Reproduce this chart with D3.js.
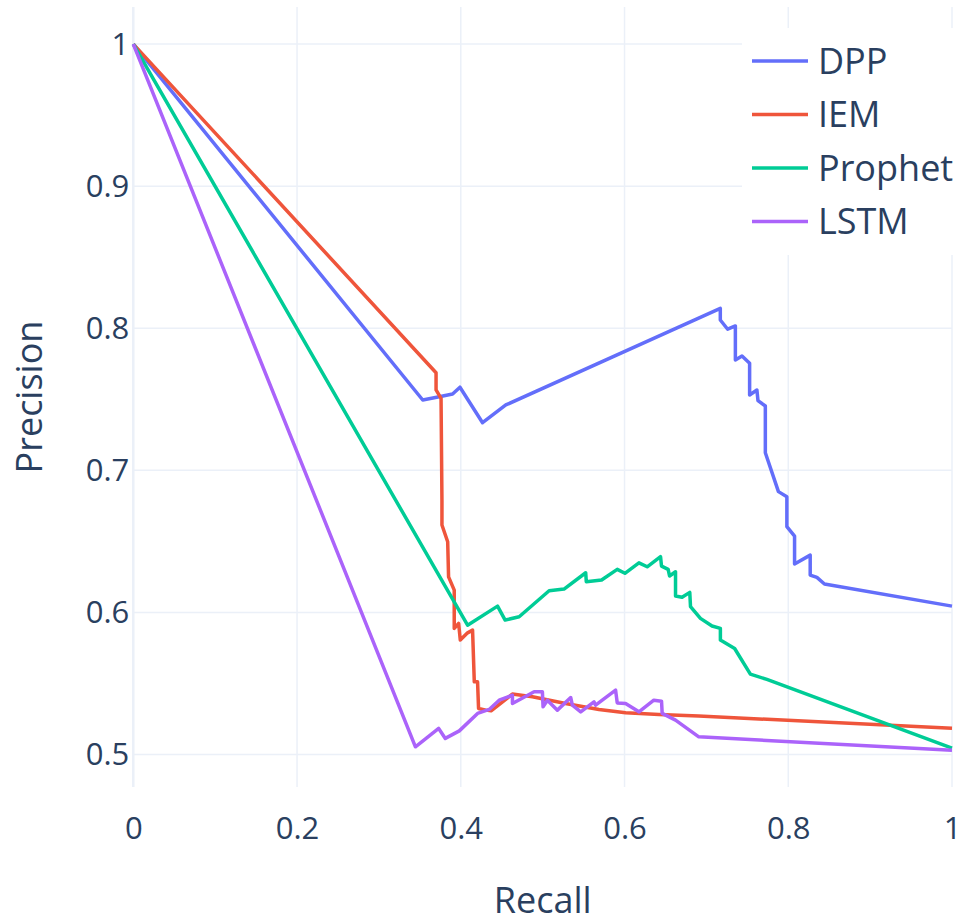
<!DOCTYPE html>
<html>
<head>
<meta charset="utf-8">
<script src="https://cdn.jsdelivr.net/npm/d3@7"></script>
<style>
  body { margin: 0; background: #fff; }
  text { font-family: 'Open Sans', sans-serif; fill: #2a3f5f; }
</style>
</head>
<body>
<div id="visualization"></div>
<script>
var seriesNames = ['DPP', 'IEM', 'Prophet', 'LSTM']
var seriesColors = ['#636efa', '#EF553B', '#00cc96', '#ab63fa']

var dppRecall = [0, 0.3535, 0.3737, 0.39, 0.399, 0.4266, 0.455, 0.717, 0.717, 0.726, 0.7354, 0.7354, 0.7435, 0.7528, 0.7528, 0.7617, 0.763, 0.772, 0.772, 0.788, 0.7983, 0.7983, 0.8077, 0.8077, 0.8268, 0.8268, 0.835, 0.8442, 1]
var dppPrecision = [1, 0.7495, 0.7518, 0.7537, 0.7585, 0.7335, 0.746, 0.814, 0.8058, 0.7993, 0.8016, 0.7777, 0.7805, 0.7754, 0.753, 0.7565, 0.749, 0.7453, 0.7124, 0.685, 0.6814, 0.6603, 0.6537, 0.634, 0.6403, 0.6263, 0.6246, 0.62, 0.6044]

var iemRecall = [0, 0.3698, 0.3698, 0.3759, 0.377, 0.377, 0.384, 0.3851, 0.392, 0.392, 0.3974, 0.3994, 0.4083, 0.4144, 0.4165, 0.4205, 0.4217, 0.4307, 0.437, 0.463, 0.4875, 0.528, 0.5688, 0.6013, 0.642, 0.6907, 1]
var iemPrecision = [1, 0.7687, 0.7566, 0.7507, 0.679, 0.6615, 0.6497, 0.625, 0.6157, 0.5887, 0.5922, 0.5805, 0.5856, 0.5875, 0.5511, 0.5511, 0.5324, 0.5312, 0.5307, 0.5425, 0.5406, 0.5359, 0.5317, 0.5293, 0.5282, 0.527, 0.5185]

var prophetRecall = [0, 0.4083, 0.4449, 0.4542, 0.4713, 0.5079, 0.5261, 0.5526, 0.5533, 0.572, 0.5911, 0.6005, 0.6176, 0.6277, 0.644, 0.6452, 0.6533, 0.655, 0.6623, 0.6623, 0.6703, 0.6797, 0.6806, 0.6927, 0.7069, 0.7171, 0.7171, 0.7345, 0.7537, 0.7739, 1]
var prophetPrecision = [1, 0.591, 0.6044, 0.5946, 0.5969, 0.6152, 0.6164, 0.6279, 0.6216, 0.6228, 0.6303, 0.6275, 0.6349, 0.6321, 0.6392, 0.6326, 0.6303, 0.6256, 0.6286, 0.6115, 0.6106, 0.6141, 0.604, 0.5958, 0.5904, 0.5887, 0.5805, 0.5746, 0.5565, 0.5528, 0.5044]

var lstmRecall = [0, 0.3446, 0.373, 0.3811, 0.3982, 0.4205, 0.4347, 0.4469, 0.4631, 0.4631, 0.4896, 0.4997, 0.5005, 0.5058, 0.518, 0.5343, 0.5363, 0.5465, 0.5627, 0.5647, 0.5891, 0.5911, 0.6013, 0.6176, 0.6358, 0.6452, 0.646, 0.6623, 0.6907, 1]
var lstmPrecision = [1, 0.5054, 0.5183, 0.5113, 0.5166, 0.5289, 0.5317, 0.5382, 0.5417, 0.5359, 0.5441, 0.5441, 0.5335, 0.5382, 0.5312, 0.5401, 0.5347, 0.53, 0.537, 0.5347, 0.5453, 0.5363, 0.5359, 0.53, 0.5382, 0.5375, 0.5289, 0.5242, 0.5124, 0.503]

var xTicks = [0, 0.2, 0.4, 0.6, 0.8, 1]
var yTicks = [0.5, 0.6, 0.7, 0.8, 0.9, 1]

function zipSeries (recall, precision) {
  var arr = []
  for (var i = 0; i < recall.length; i++) {
    arr.push({ recall: recall[i], precision: precision[i] })
  }
  return arr
}

function drawChart () {
  var width = 975
  var height = 923
  var left = 133.3
  var right = 952
  var top = 7
  var bottom = 787

  var data = [
    zipSeries(dppRecall, dppPrecision),
    zipSeries(iemRecall, iemPrecision),
    zipSeries(prophetRecall, prophetPrecision),
    zipSeries(lstmRecall, lstmPrecision)
  ]

  var svg = d3.select('#visualization')
    .append('svg')
    .attr('width', width)
    .attr('height', height)

  var x = d3.scaleLinear()
    .domain([0, 1])
    .range([left, right])

  var y = d3.scaleLinear()
    .domain([0.4771, 1.0261])
    .range([bottom, top])

  // grid
  var grid = svg.append('g')
  grid.selectAll('.hgrid')
    .data(yTicks)
    .enter()
    .append('line')
    .attr('x1', left)
    .attr('x2', right)
    .attr('y1', function (d) { return y(d) })
    .attr('y2', function (d) { return y(d) })
    .attr('stroke', '#ebf0f8')
    .attr('stroke-width', 1.5)
  grid.selectAll('.vgrid')
    .data(xTicks)
    .enter()
    .append('line')
    .attr('x1', function (d) { return x(d) })
    .attr('x2', function (d) { return x(d) })
    .attr('y1', top)
    .attr('y2', bottom)
    .attr('stroke', '#ebf0f8')
    .attr('stroke-width', function (d) { return d === 0 ? 2.5 : 1.5 })

  // axes
  var xAxis = d3.axisBottom(x)
    .tickValues(xTicks)
    .tickSize(0)
    .tickPadding(30)
    .tickFormat(function (d) { return d3.format('')(d) })
  var gx = svg.append('g')
    .attr('transform', 'translate(0,' + bottom + ')')
    .call(xAxis)
  gx.select('.domain').remove()
  gx.selectAll('text')
    .style('font-size', '31px')
    .style('font-family', "'Open Sans', sans-serif")
    .attr('fill', '#2a3f5f')

  var yAxis = d3.axisLeft(y)
    .tickValues(yTicks)
    .tickSize(0)
    .tickPadding(4)
    .tickFormat(function (d) { return d3.format('')(d) })
  var gy = svg.append('g')
    .attr('transform', 'translate(' + left + ',0)')
    .call(yAxis)
  gy.select('.domain').remove()
  gy.selectAll('text')
    .style('font-size', '31px')
    .style('font-family', "'Open Sans', sans-serif")
    .attr('fill', '#2a3f5f')

  // lines
  var line = d3.line()
    .x(function (d) { return x(d.recall) })
    .y(function (d) { return y(d.precision) })

  svg.append('g')
    .selectAll('path')
    .data(data)
    .enter()
    .append('path')
    .attr('d', line)
    .attr('fill', 'none')
    .attr('stroke', function (d, i) { return seriesColors[i] })
    .attr('stroke-width', 3.5)
    .attr('stroke-linejoin', 'round')

  // legend
  var legend = svg.append('g')
  legend.append('rect')
    .attr('x', 742)
    .attr('y', 28)
    .attr('width', 233)
    .attr('height', 227)
    .attr('fill', '#fff')
  var items = legend.selectAll('.legend')
    .data(seriesNames)
    .enter()
    .append('g')
    .attr('transform', function (d, i) {
      return 'translate(0,' + (61 + i * 53.5) + ')'
    })
  items.append('line')
    .attr('x1', 752)
    .attr('x2', 808)
    .attr('stroke', function (d, i) { return seriesColors[i] })
    .attr('stroke-width', 3.5)
  items.append('text')
    .attr('x', 818)
    .attr('dy', '0.35em')
    .style('font-size', '36px')
    .text(function (d) { return d })

  // titles
  svg.append('text')
    .attr('x', (left + right) / 2)
    .attr('y', 913)
    .style('text-anchor', 'middle')
    .style('font-size', '36px')
    .text('Recall')
  svg.append('text')
    .attr('transform', 'translate(42,' + (top + bottom) / 2 + ') rotate(-90)')
    .style('text-anchor', 'middle')
    .style('font-size', '36px')
    .text('Precision')
}

drawChart()
</script>
</body>
</html>
